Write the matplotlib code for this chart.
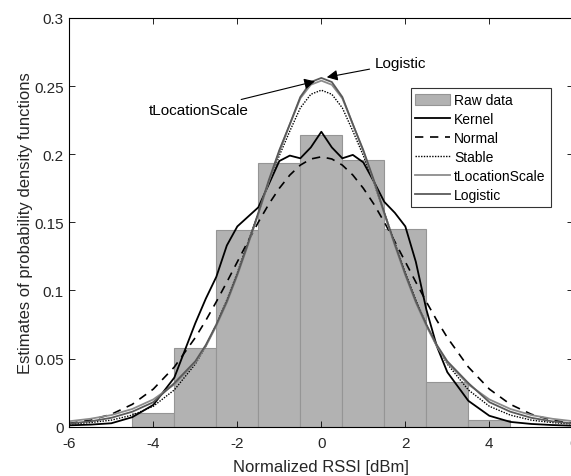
# plot.py
# Histogram of normalized RSSI with several fitted probability density curves.

import matplotlib
matplotlib.use("Agg")
import matplotlib.pyplot as plt

plt.rcParams["font.family"] = ["Liberation Sans", "DejaVu Sans"]

# Histogram (bin centres and heights)
bin_centers = [-4, -3, -2, -1, 0, 1, 2, 3, 4]
bin_heights = [0.0098, 0.0575, 0.1443, 0.1937, 0.2142, 0.1956, 0.1448, 0.0330, 0.0047]

# Shared x grid for the curves
x_grid = [-6, -5.5, -5, -4.5, -4, -3.5, -3,
          -2.75, -2.5, -2.25, -2, -1.75, -1.5, -1.25, -1, -0.75, -0.5, -0.25,
          0,
          0.25, 0.5, 0.75, 1, 1.25, 1.5, 1.75, 2, 2.25, 2.5, 2.75,
          3, 3.5, 4, 4.5, 5, 5.5, 6]

kernel = [0.001, 0.0015, 0.0025, 0.007, 0.016, 0.036, 0.076,
          0.094, 0.110, 0.133, 0.147, 0.154, 0.161, 0.178, 0.195, 0.199, 0.197, 0.205,
          0.2165,
          0.205, 0.197, 0.1995, 0.194, 0.180, 0.165, 0.157, 0.147, 0.121, 0.086, 0.059,
          0.040, 0.019, 0.008, 0.0035, 0.002, 0.0012, 0.0007]

normal = [0.0024, 0.0048, 0.0091, 0.0164, 0.0276, 0.0438, 0.0654,
          0.0780, 0.0917, 0.1061, 0.1210, 0.1358, 0.1501, 0.1634, 0.1750, 0.1847, 0.1920, 0.1965,
          0.1981,
          0.1965, 0.1920, 0.1847, 0.1750, 0.1634, 0.1501, 0.1358, 0.1210, 0.1061, 0.0917, 0.0780,
          0.0654, 0.0438, 0.0276, 0.0164, 0.0091, 0.0048, 0.0024]

stable = [0.0019, 0.0030, 0.0048, 0.0085, 0.015, 0.027, 0.046,
          0.059, 0.075, 0.093, 0.113, 0.135, 0.157, 0.179, 0.199, 0.217, 0.234, 0.244,
          0.247,
          0.244, 0.234, 0.217, 0.199, 0.179, 0.157, 0.135, 0.113, 0.093, 0.075, 0.059,
          0.046, 0.027, 0.015, 0.0085, 0.0048, 0.0030, 0.0019]

t_loc_scale = [0.0040, 0.0058, 0.0085, 0.013, 0.020, 0.031, 0.047,
               0.059, 0.074, 0.091, 0.111, 0.133, 0.156, 0.180, 0.202, 0.222, 0.241, 0.251,
               0.254,
               0.251, 0.241, 0.222, 0.202, 0.180, 0.156, 0.133, 0.111, 0.091, 0.074, 0.059,
               0.047, 0.031, 0.020, 0.013, 0.0085, 0.0058, 0.0040]

logistic = [0.0023, 0.0039, 0.0065, 0.011, 0.018, 0.032, 0.048,
            0.060, 0.075, 0.092, 0.112, 0.134, 0.157, 0.181, 0.203, 0.222, 0.242, 0.253,
            0.256,
            0.253, 0.242, 0.222, 0.203, 0.181, 0.157, 0.134, 0.112, 0.092, 0.075, 0.060,
            0.048, 0.032, 0.018, 0.011, 0.0065, 0.0039, 0.0023]

x_ticks = [-6, -4, -2, 0, 2, 4, 6]
y_ticks = [0, 0.05, 0.1, 0.15, 0.2, 0.25, 0.3]
y_tick_labels = ["0", "0.05", "0.1", "0.15", "0.2", "0.25", "0.3"]

TEXT_COLOR = "#262626"

fig = plt.figure(figsize=(5.71, 4.77), dpi=100)
ax = fig.add_axes([0.1214, 0.1034, 0.8827, 0.8568])

bars = ax.bar(bin_centers, bin_heights, width=1.0, color="#b2b2b2",
              edgecolor="#959595", linewidth=0.8, label="Raw data")

h_kernel, = ax.plot(x_grid, kernel, color="black", linewidth=1.3, label="Kernel")
h_normal, = ax.plot(x_grid, normal, color="black", linewidth=1.2,
                    linestyle=(0, (5, 4)), label="Normal")
h_stable, = ax.plot(x_grid, stable, color="black", linewidth=1.0,
                    linestyle=(0, (1, 1)), label="Stable")
h_tloc, = ax.plot(x_grid, t_loc_scale, color="#8c8c8c", linewidth=1.3, label="tLocationScale")
h_logi, = ax.plot(x_grid, logistic, color="#5a5a5a", linewidth=1.3, label="Logistic")

ax.set_xlim(-6, 6)
ax.set_ylim(0, 0.3)
ax.set_xticks(x_ticks)
ax.set_xticklabels([str(t) for t in x_ticks])
ax.set_yticks(y_ticks)
ax.set_yticklabels(y_tick_labels)
ax.tick_params(direction="in", length=4, width=0.6, labelsize=11,
               top=True, right=True, colors="black", labelcolor=TEXT_COLOR)
ax.tick_params(axis="y", pad=4)
ax.tick_params(axis="x", pad=7)
for spine in ax.spines.values():
    spine.set_linewidth(0.8)

ax.set_xlabel("Normalized RSSI [dBm]", fontsize=12, color=TEXT_COLOR, labelpad=6)
ax.set_ylabel("Estimates of probability density functions", fontsize=12,
              color=TEXT_COLOR, labelpad=1)

# arrows pointing at the two nearly overlapping peaks
ax.annotate("Logistic", xy=(0.13, 0.2565), xytext=(1.28, 0.2668),
            fontsize=11, va="center", ha="left",
            arrowprops=dict(arrowstyle="-|>", color="black", lw=0.8,
                            mutation_scale=16, shrinkA=2, shrinkB=0))
ax.annotate("tLocationScale", xy=(-0.15, 0.2535), xytext=(-1.73, 0.2325),
            fontsize=11, va="center", ha="right",
            arrowprops=dict(arrowstyle="-|>", color="black", lw=0.8,
                            mutation_scale=16, shrinkA=2, shrinkB=0))

leg = ax.legend([bars, h_kernel, h_normal, h_stable, h_tloc, h_logi],
                ["Raw data", "Kernel", "Normal", "Stable", "tLocationScale", "Logistic"],
                loc="upper right", bbox_to_anchor=(0.955, 0.828), fontsize=10,
                frameon=True, fancybox=False, edgecolor="black",
                handlelength=2.5, handleheight=0.9, handletextpad=0.3,
                labelspacing=0.36, borderpad=0.35, borderaxespad=0)
leg.get_frame().set_linewidth(0.8)

fig.savefig("out.png", dpi=100)
